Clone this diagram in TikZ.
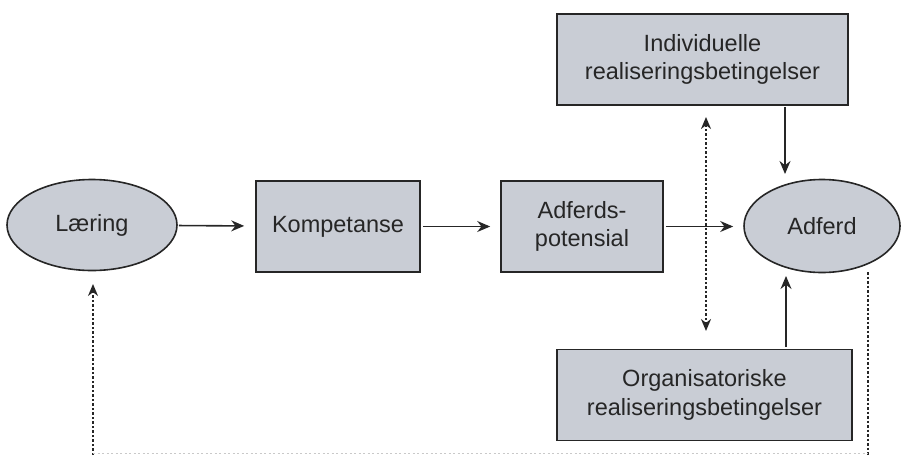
\documentclass[tikz,border=0pt]{standalone}
\usepackage{fontspec}
\setmainfont{Liberation Sans}
\usetikzlibrary{shapes.geometric,arrows.meta}
\definecolor{boxfill}{HTML}{C9CDD5}
\definecolor{ink}{HTML}{262626}
\tikzset{
  base/.style={draw=ink, line width=1.6pt, fill=boxfill, text=ink, font=\fontsize{23.5}{28.5}\selectfont, align=center, inner sep=0pt},
  boxnode/.style={base, rectangle, minimum width=#1, minimum height=91pt},
  ellnode/.style={base, ellipse, minimum width=#1, minimum height=91pt},
  arr/.style={draw=ink, line width=1.6pt, -{Stealth[length=13pt,width=11pt]}},
  dotarr/.style={draw=ink, line width=2pt, dash pattern=on 2.5pt off 2pt},
  faint/.style={draw=ink!25, line width=1pt, dash pattern=on 2pt off 2.5pt},
}
\begin{document}
\begin{tikzpicture}[x=1pt,y=-1pt]
\useasboundingbox (0,0) rectangle (901,455);
\node[ellnode=170pt] (laer) at (92,225) {Læring};
\node[boxnode=164pt] (komp) at (338,226.5) {Kompetanse};
\node[boxnode=162pt] (pot) at (582,226.5) {Adferds-\\potensial};
\node[ellnode=156pt, minimum height=93pt] (adf) at (822,226) {Adferd};
\node[boxnode=291pt] (ind) at (702.5,59.5) {Individuelle\\realiseringsbetingelser};
\node[boxnode=295pt] (org) at (704.5,395) {Organisatoriske\\realiseringsbetingelser};

\draw[arr, shorten <=1pt, shorten >=11pt] (laer) -- (komp);
\draw[arr, shorten <=2pt, shorten >=10pt] (komp) -- (pot);
\draw[arr, shorten <=2pt, shorten >=10pt] (pot.east) -- (adf.west |- pot.east);
\coordinate (indArr) at (785,105);
\coordinate (adfTop) at (785,181);
\draw[arr, shorten <=2pt, shorten >=7pt] (indArr) -- (adfTop);
\coordinate (orgArr) at (786,348);
\coordinate (adfBot) at (786,272);
\draw[arr, shorten <=1pt, shorten >=4pt] (orgArr) -- (adfBot);

\coordinate (dA) at (706,105);
\coordinate (dB) at (706,348);
\draw[dotarr, {Stealth[length=12pt,width=10pt]}-{Stealth[length=12pt,width=10pt]}, shorten <=12pt, shorten >=17pt] (dA) -- (dB);

\coordinate (lb) at (93,455);
\coordinate (lt) at (93,270);
\draw[dotarr, -{Stealth[length=12pt,width=10pt]}, shorten >=14pt] (lb) -- (lt);
\coordinate (rt) at (868,272);
\coordinate (rb) at (868,455);
\draw[dotarr] (rt) -- (rb);
\coordinate (hb1) at (93,453);
\coordinate (hb2) at (868,453);
\draw[faint] (hb1) -- (hb2);
\end{tikzpicture}
\end{document}
